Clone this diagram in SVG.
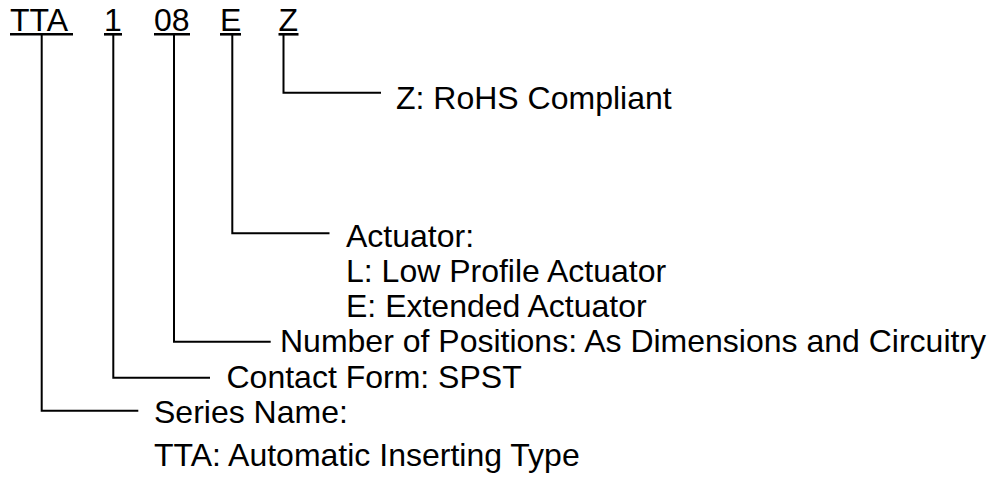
<svg xmlns="http://www.w3.org/2000/svg" width="992" height="478" viewBox="0 0 992 478">
<style>
text{font-family:"Liberation Sans",Arial,sans-serif;font-size:32px;fill:#000}
.ul{stroke:#000;stroke-width:2.6;fill:none}
.c{stroke:#000;stroke-width:2;fill:none}
</style>
<rect width="992" height="478" fill="#fff"/>
<g id="code-tta"><text x="10" y="30.5">TTA</text><line class="ul" x1="10" y1="34.3" x2="73" y2="34.3"/></g>
<g id="code-1"><text x="104" y="30.5">1</text><line class="ul" x1="104" y1="34.3" x2="122" y2="34.3"/></g>
<g id="code-08"><text x="154" y="30.5">08</text><line class="ul" x1="154" y1="34.3" x2="190" y2="34.3"/></g>
<g id="code-e"><text x="220" y="30.5">E</text><line class="ul" x1="220" y1="34.3" x2="241" y2="34.3"/></g>
<g id="code-z"><text x="278.5" y="30.5">Z</text><line class="ul" x1="278.5" y1="34.3" x2="298.5" y2="34.3"/></g>
<g id="connectors">
<polyline class="c" points="283.5,35 283.5,92.7 381,92.7"/>
<polyline class="c" points="232.3,35 232.3,233.3 329.5,233.3"/>
<polyline class="c" points="174,35 174,341.7 270.7,341.7"/>
<polyline class="c" points="113.3,35 113.3,377.7 210,377.7"/>
<polyline class="c" points="41.7,35 41.7,410.7 138.3,410.7"/>
</g>
<g id="desc-z"><text x="396" y="108.5">Z: RoHS Compliant</text></g>
<g id="desc-e"><text x="346" y="246.5">Actuator:</text><text x="346" y="281.5">L: Low Profile Actuator</text><text x="346" y="316.5">E: Extended Actuator</text></g>
<g id="desc-08"><text x="280" y="351.5">Number of Positions: As Dimensions and Circuitry</text></g>
<g id="desc-1"><text x="226.5" y="387.5">Contact Form: SPST</text></g>
<g id="desc-tta"><text x="154" y="422.5">Series Name:</text><text x="154" y="465.5">TTA: Automatic Inserting Type</text></g>
</svg>
